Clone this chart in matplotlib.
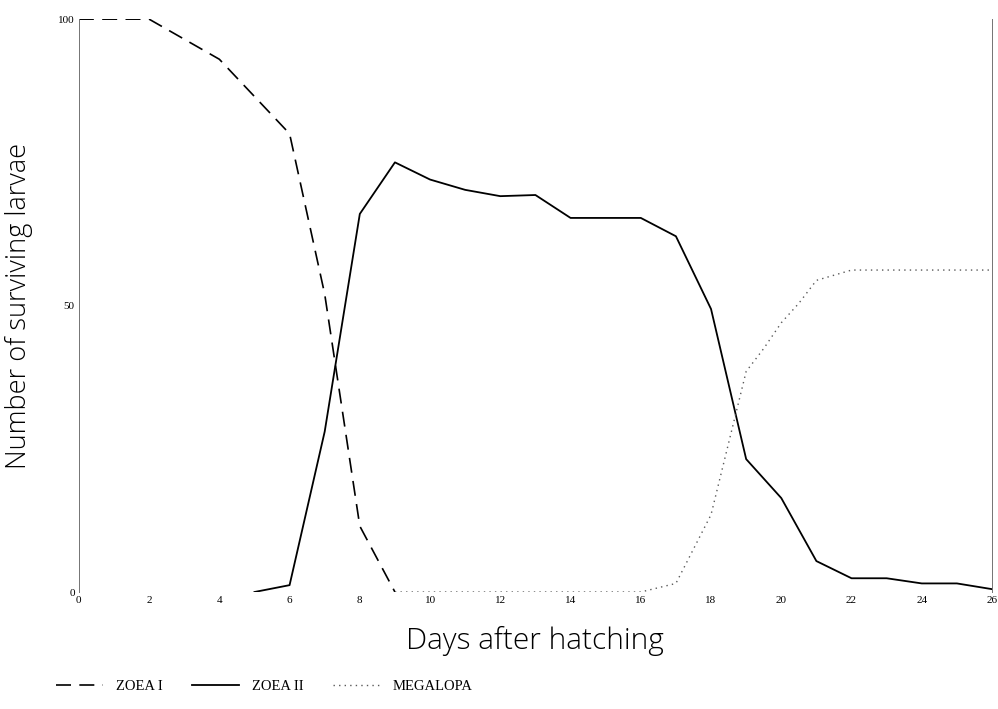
import matplotlib
matplotlib.use("Agg")
import matplotlib.pyplot as plt

# values
zoea1_days = [0, 2, 3, 4, 5, 6, 7, 8, 9]
zoea1 = [100, 100, 96.5, 93, 86.5, 80, 52, 11.5, 0]

zoea2_days = [5, 6, 7, 8, 9, 10, 11, 12, 13, 14, 15, 16, 17, 18, 19, 20, 21, 22, 23, 24, 25, 26]
zoea2 = [0, 1.2, 28, 66, 75, 72, 70.2, 69.1, 69.3, 65.3, 65.3, 65.3, 62.1,
         49.4, 23.2, 16.4, 5.4, 2.4, 2.4, 1.5, 1.5, 0.5]

megalopa_days = [9, 10, 11, 12, 13, 14, 15, 16, 17, 18, 19, 19.5, 20, 20.5, 21, 22, 23, 24, 25, 26]
megalopa = [0, 0, 0, 0, 0, 0, 0, 0, 1.5, 13.5, 38.5, 42.5, 47, 50.4, 54.4, 56.2, 56.2, 56.2, 56.2, 56.2]

x_ticks = list(range(0, 27, 2))
y_ticks = [0, 50, 100]

serif = "Liberation Serif"
sans = "Open Sans"


def main():
    fig = plt.figure(figsize=(9.98, 7.09), dpi=100)
    ax = fig.add_axes([0.079, 0.165, 0.915, 0.808])

    ax.plot(zoea1_days, zoea1, color="black", lw=1.2, linestyle=(0, (9, 5)), label="ZOEA I")
    ax.plot(zoea2_days, zoea2, color="black", lw=1.3, label="ZOEA II")
    ax.plot(megalopa_days, megalopa, color="0.35", lw=1.0, linestyle=(0, (1, 3)), label="MEGALOPA")

    ax.set_xlim(0, 26)
    ax.set_ylim(0, 100)
    ax.set_xticks(x_ticks)
    ax.set_yticks(y_ticks)
    ax.tick_params(axis="both", length=0, labelsize=8, pad=3)
    for lab in ax.get_xticklabels() + ax.get_yticklabels():
        lab.set_family(serif)

    for side in ["top", "bottom"]:
        ax.spines[side].set_visible(False)
    for side in ["left", "right"]:
        ax.spines[side].set_linewidth(0.7)
        ax.spines[side].set_color("0.45")

    ax.set_xlabel("Days after hatching", fontsize=21.5, family=sans, fontweight="light", labelpad=15)
    ax.set_ylabel("Number of surviving larvae", fontsize=19.5, family=sans, fontweight="light", labelpad=18)

    fig.legend(loc="center", bbox_to_anchor=(0.265, 0.032), ncol=3, frameon=False,
               handlelength=3.2, columnspacing=2.0, handletextpad=0.9,
               prop={"family": serif, "size": 10.5})

    fig.savefig("out.png", dpi=100)


if __name__ == "__main__":
    main()
